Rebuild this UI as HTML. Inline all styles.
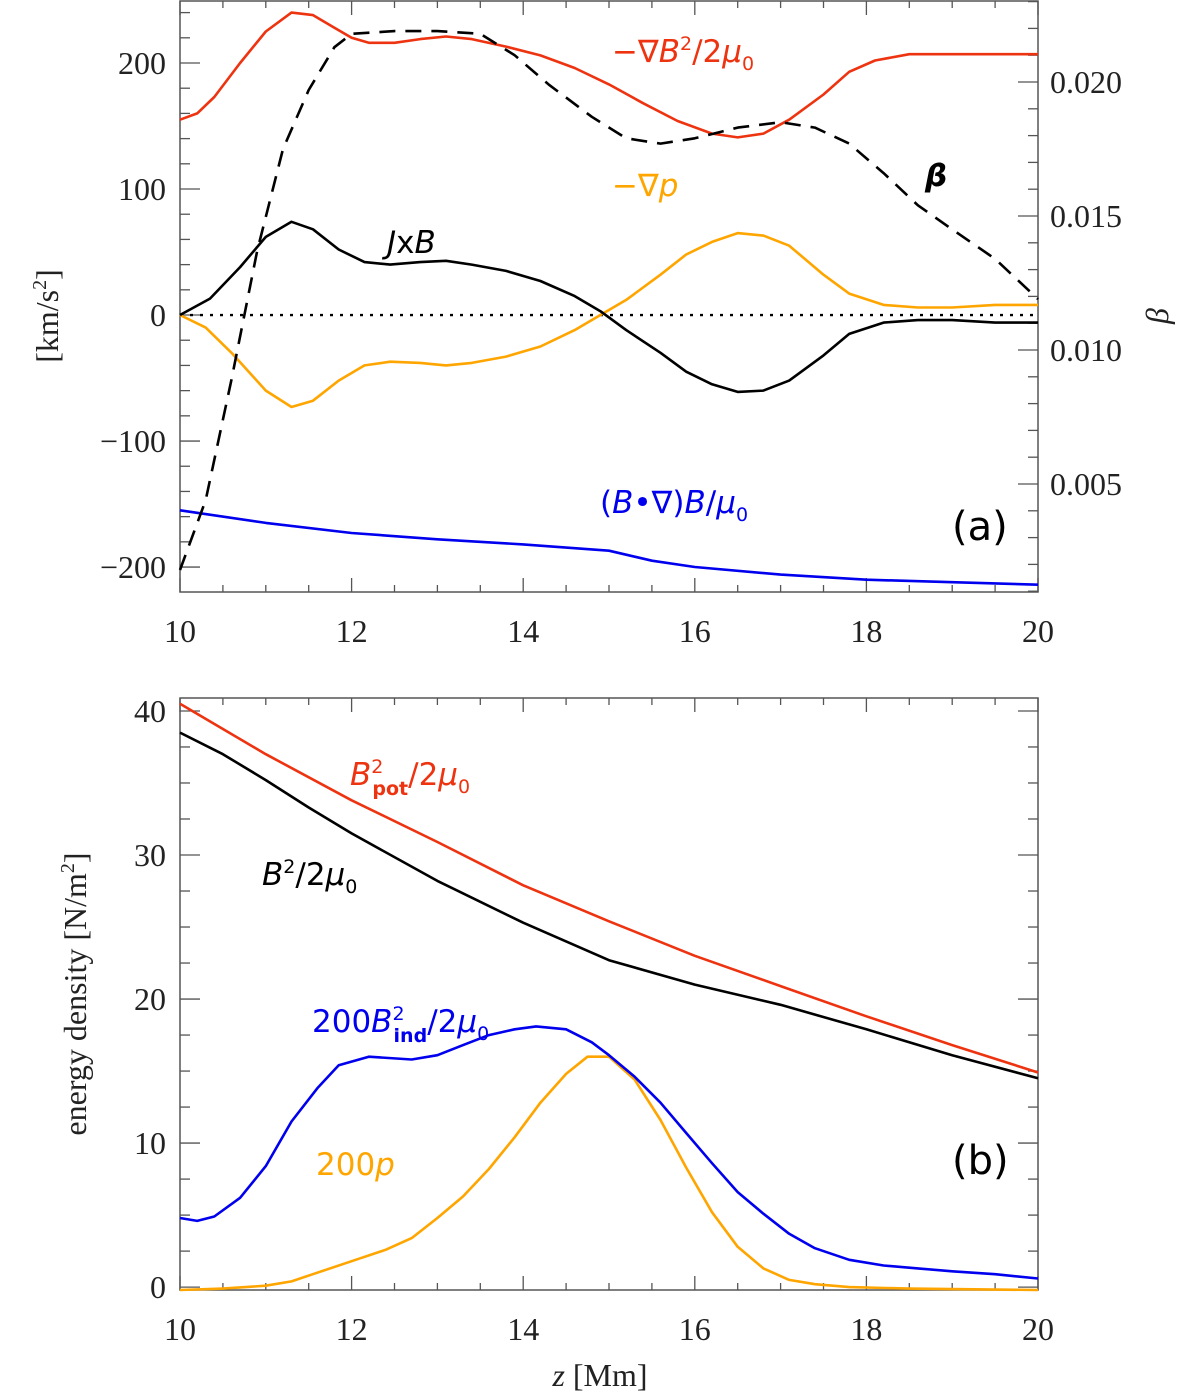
<!DOCTYPE html>
<html><head><meta charset="utf-8"><style>
body{margin:0;background:#fff}
svg{display:block}
text{font-family:"Liberation Serif",serif;}
.ann{font-family:"DejaVu Sans",sans-serif;font-size:31px}
</style></head><body>
<svg id="fig" width="1200" height="1396" viewBox="0 0 1200 1396" xmlns="http://www.w3.org/2000/svg">
<g id="pa"></g>
<g id="pb"></g>
<g>
<text class="ann" x="612" y="62" fill="#ee3311">−∇<tspan font-style="italic">B</tspan><tspan dy="-12" font-size="19">2</tspan><tspan dy="12">/2</tspan><tspan font-style="italic">μ</tspan><tspan dy="8" font-size="19">0</tspan></text>
<text class="ann" x="612" y="196" fill="#ffa500">−∇<tspan font-style="italic">p</tspan></text>
<text class="ann" x="925" y="186" fill="#000" font-style="italic" font-weight="bold">β</text>
<text class="ann" x="387" y="253" fill="#000"><tspan font-style="italic">J</tspan>x<tspan font-style="italic">B</tspan></text>
<text class="ann" x="600" y="513" fill="#0000ee">(<tspan font-style="italic">B</tspan>•∇)<tspan font-style="italic">B</tspan>/<tspan font-style="italic">μ</tspan><tspan dy="8" font-size="19">0</tspan></text>
<text class="ann" x="952" y="540" fill="#000" style="font-size:40px">(a)</text>
<text class="ann" x="350" y="785" fill="#ee3311"><tspan font-style="italic">B</tspan><tspan dy="-12" font-size="19">2</tspan><tspan dx="-11" dy="22" font-size="19" font-weight="bold">pot</tspan><tspan dy="-10">/2</tspan><tspan font-style="italic">μ</tspan><tspan dy="8" font-size="19">0</tspan></text>
<text class="ann" x="262" y="885" fill="#000"><tspan font-style="italic">B</tspan><tspan dy="-12" font-size="19">2</tspan><tspan dy="12">/2</tspan><tspan font-style="italic">μ</tspan><tspan dy="8" font-size="19">0</tspan></text>
<text class="ann" x="312" y="1032" fill="#0000ee">200<tspan font-style="italic">B</tspan><tspan dy="-12" font-size="19">2</tspan><tspan dx="-11" dy="22" font-size="19" font-weight="bold">ind</tspan><tspan dy="-10">/2</tspan><tspan font-style="italic">μ</tspan><tspan dy="8" font-size="19">0</tspan></text>
<text class="ann" x="316" y="1175" fill="#ffa500">200<tspan font-style="italic">p</tspan></text>
<text class="ann" x="952" y="1174" fill="#000" style="font-size:40px">(b)</text>
</g>
<text transform="translate(58,316) rotate(-90)" text-anchor="middle" font-size="32" fill="#222">[km/s<tspan dy="-12" font-size="20">2</tspan><tspan dy="12">]</tspan></text>
<text transform="translate(1168,316) rotate(-90)" text-anchor="middle" font-size="32" font-style="italic" fill="#222">β</text>
<text transform="translate(86,994) rotate(-90)" text-anchor="middle" font-size="32" fill="#222">energy density [N/m<tspan dy="-12" font-size="20">2</tspan><tspan dy="12">]</tspan></text>
<text x="600" y="1386" text-anchor="middle" font-size="32" fill="#222"><tspan font-style="italic">z</tspan> [Mm]</text>
</svg>
<script>
// ---- panel a data ----
const zRed=[10,10.2,10.4,10.7,11.0,11.3,11.55,11.8,12.0,12.2,12.5,12.8,13.1,13.4,13.8,14.2,14.6,15.0,15.4,15.8,16.2,16.5,16.8,17.1,17.5,17.8,18.1,18.5,19.0,19.5,20];
const vRed=[155,160,173,200,225,240,238,228,220,216,216,219,221,219,213,206,196,183,168,154,144,141,144,155,175,193,202,207,207,207,207];
const zJ=[10,10.35,10.7,11.0,11.3,11.55,11.85,12.15,12.45,12.8,13.1,13.4,13.8,14.2,14.6,14.9,15.2,15.6,15.9,16.2,16.5,16.8,17.1,17.5,17.8,18.2,18.6,19.0,19.5,20];
const vJ=[0,13,38,62,74,68,52,42,40,42,43,40,35,27,15,3,-12,-30,-45,-55,-61,-60,-52,-32,-15,-6,-4,-4,-6,-6];
const zP=[10,10.3,10.6,11.0,11.3,11.55,11.85,12.15,12.45,12.8,13.1,13.4,13.8,14.2,14.6,14.9,15.2,15.6,15.9,16.2,16.5,16.8,17.1,17.5,17.8,18.2,18.6,19.0,19.5,20];
const vP=[0,-10,-30,-60,-73,-68,-52,-40,-37,-38,-40,-38,-33,-25,-12,0,12,32,48,58,65,63,55,32,17,8,6,6,8,8];
const zBlue=[10,11,12,13,14,15,15.5,16,17,18,19,20];
const vBlue=[-155,-165,-173,-178,-182,-187,-195,-200,-206,-210,-212,-214];
const zBeta=[10,10.3,10.6,10.9,11.2,11.5,11.8,12.0,12.5,13.0,13.5,13.9,14.3,14.8,15.2,15.6,16.0,16.5,17.0,17.4,17.8,18.2,18.6,19.0,19.5,20];
const vBeta=[0.00179,0.0044,0.0089,0.0137,0.0175,0.0197,0.0213,0.0218,0.0219,0.0219,0.0218,0.0210,0.0199,0.0187,0.0179,0.0177,0.0179,0.0183,0.0185,0.0183,0.0177,0.0166,0.0154,0.0145,0.0134,0.0119];
// ---- panel b data ----
const zPot=[10,11,12,13,14,15,16,17,18,19,20];
const vPot=[40.5,37.0,33.8,30.9,27.9,25.4,23.0,20.9,18.8,16.8,14.9];
const zB2=[10,10.5,11,11.5,12,13,14,15,16,17,18,19,20];
const vB2=[38.5,37.0,35.2,33.3,31.5,28.2,25.3,22.7,21.0,19.6,17.9,16.1,14.5];
const zInd=[10,10.2,10.4,10.7,11.0,11.3,11.6,11.85,12.2,12.7,13.0,13.3,13.6,13.9,14.15,14.5,14.8,15.0,15.3,15.6,15.9,16.2,16.5,16.8,17.1,17.4,17.8,18.2,18.6,19.0,19.5,20];
const vInd=[4.8,4.6,4.9,6.2,8.4,11.5,13.8,15.4,16,15.8,16.1,16.8,17.5,17.9,18.1,17.9,17.0,16.1,14.6,12.8,10.7,8.6,6.6,5.1,3.7,2.7,1.9,1.5,1.3,1.1,0.9,0.6];
const zPres=[10,10.5,11.0,11.3,11.6,12.0,12.4,12.7,13.0,13.3,13.6,13.9,14.2,14.5,14.75,15.0,15.3,15.6,15.9,16.2,16.5,16.8,17.1,17.4,17.8,18.5,20];
const vPres=[-0.2,-0.1,0.1,0.4,1.0,1.8,2.6,3.4,4.8,6.3,8.2,10.4,12.8,14.8,16.0,16.0,14.4,11.6,8.3,5.2,2.8,1.3,0.5,0.2,0,-0.1,-0.2];
const xTicks=[10,12,14,16,18,20];
const yTicksA=[-200,-100,0,100,200];
const yTicksBeta=[0.005,0.010,0.015,0.020];
const yTicksB=[0,10,20,30,40];

const NS="http://www.w3.org/2000/svg";
const L=180,R=1038;
function mk(tag,attrs,parent){const e=document.createElementNS(NS,tag);for(const k in attrs)e.setAttribute(k,attrs[k]);parent.appendChild(e);return e;}
const X=z=>L+(z-10)/10*(R-L);
const YA=v=>0+(250-v)/(250+219.8)*592;
const YBeta=b=>(0.02306-b)/(0.02306-0.00097)*592;
const YB=v=>698+(40.9-v)/(40.9+0.2)*(1290-698);

function line(g,zs,vs,yf,color,name,dash){
  const d=zs.map((z,i)=>(i?'L':'M')+X(z).toFixed(1)+','+yf(vs[i]).toFixed(1)).join('');
  const p=mk('path',{d:d,fill:'none',stroke:color,'stroke-width':2.6,'stroke-linejoin':'round'},g);
  if(dash)p.setAttribute('stroke-dasharray',dash);
  
  
}
function frame(g,top,bot,name){
  const r=mk('rect',{x:L,y:top,width:R-L,height:bot-top,fill:'none',stroke:'#555','stroke-width':1.5},g);
  
  
  for(let z=10;z<=20.001;z+=0.5){const maj=Math.abs(z-Math.round(z/2)*2)<1e-6;const len=maj?14:7;
    mk('line',{x1:X(z),x2:X(z),y1:bot,y2:bot-len,stroke:'#555','stroke-width':1.3},g);
    mk('line',{x1:X(z),x2:X(z),y1:top,y2:top+len,stroke:'#555','stroke-width':1.3},g);}
  xTicks.forEach(z=>{const t=mk('text',{x:X(z),y:bot+50,'text-anchor':'middle','font-size':32,fill:'#222'},g);t.textContent=z;
    
    });
}
const ga=document.getElementById('pa');
frame(ga,1,592,'panel-a-frame');
for(let v=-200;v<=240;v+=20){const maj=v%100===0;mk('line',{x1:L,x2:L+(maj?20:10),y1:YA(v),y2:YA(v),stroke:'#555','stroke-width':1.3},ga);}
yTicksA.forEach(v=>{const t=mk('text',{x:L-14,y:YA(v)+11,'text-anchor':'end','font-size':32,fill:'#222'},ga);t.textContent=(v<0?'−':'')+Math.abs(v);
  
  });
for(let i=1;i<=23;i++){const b=i*0.001;const maj=i%5===0;mk('line',{x1:R,x2:R-(maj?20:10),y1:YBeta(b),y2:YBeta(b),stroke:'#555','stroke-width':1.3},ga);}
yTicksBeta.forEach(b=>{const t=mk('text',{x:R+12,y:YBeta(b)+11,'font-size':32,fill:'#222'},ga);t.textContent=b.toFixed(3);
  
  });
const zl=mk('line',{x1:L,x2:R,y1:YA(0),y2:YA(0),stroke:'#000','stroke-width':2.4,'stroke-dasharray':'3,7'},ga);


line(ga,zBlue,vBlue,YA,'#0000ee','series-tension');
line(ga,zP,vP,YA,'#ffa500','series-grad-p');
line(ga,zJ,vJ,YA,'#000','series-jxb');
line(ga,zRed,vRed,YA,'#ee3311','series-grad-b2');
line(ga,zBeta,vBeta,YBeta,'#000','series-beta','16,10');

const gb=document.getElementById('pb');
frame(gb,698,1290,'panel-b-frame');
for(let v=0;v<=40;v+=2.5){const maj=v%10===0;const len=maj?20:10;
  mk('line',{x1:L,x2:L+len,y1:YB(v),y2:YB(v),stroke:'#555','stroke-width':1.3},gb);
  mk('line',{x1:R,x2:R-len,y1:YB(v),y2:YB(v),stroke:'#555','stroke-width':1.3},gb);}
yTicksB.forEach(v=>{const t=mk('text',{x:L-14,y:YB(v)+11,'text-anchor':'end','font-size':32,fill:'#222'},gb);t.textContent=v;
  
  });
line(gb,zPres,vPres,YB,'#ffa500','series-200p');
line(gb,zInd,vInd,YB,'#0000ee','series-bind');
line(gb,zB2,vB2,YB,'#000','series-b2');
line(gb,zPot,vPot,YB,'#ee3311','series-bpot');
</script>
</body></html>
